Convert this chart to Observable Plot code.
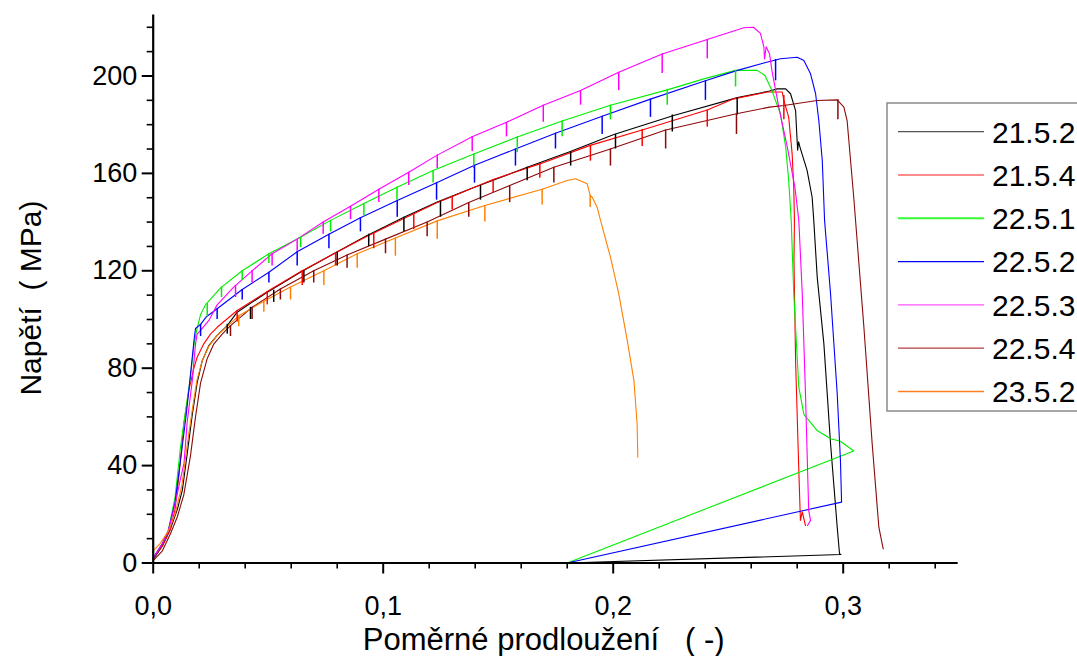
<!DOCTYPE html>
<html><head><meta charset="utf-8">
<script src="https://cdn.jsdelivr.net/npm/d3@7"></script>
<script src="https://cdn.jsdelivr.net/npm/@observablehq/plot@0.6"></script>
<style>
html,body{margin:0;padding:0;background:#fff;overflow:hidden;}
#chart{position:relative;width:1077px;height:656px;}
</style>
</head><body><div id="chart"></div>
<script>
// ---- categories / legend ----
const seriesNames = ["21.5.2","21.5.4","22.5.1","22.5.2","22.5.3","22.5.4","23.5.2"];
const seriesColors = ["#000000","#ff0000","#00ee00","#0000ff","#ff00ff","#8b0a0a","#ff8000"];
const legendColors = ["#555555","#ff6666","#33ff33","#0000ff","#ff55ff","#b04040","#ff8020"];

// ---- axis ticks ----
const xTicks = [0, 0.1, 0.2, 0.3];
const xTickLabels = ["0,0","0,1","0,2","0,3"];
const xMinor = [0.02,0.04,0.06,0.08,0.12,0.14,0.16,0.18,0.22,0.24,0.26,0.28,0.32,0.34];
const yTicks = [0, 40, 80, 120, 160, 200];
const yTickLabels = ["0","40","80","120","160","200"];
const yMinor = [10,20,30,50,60,70,90,100,110,130,140,150,170,180,190,210,220];
const xTitle = "Poměrné prodloužení   ( -)";
const yTitle = "Napětí  ( MPa)";

// ---- series: [strain, stress MPa] ----
const s21_5_2 = [[0,1.5],[0.004,7],[0.0075,14],[0.0105,22],[0.0127,30],[0.0148,45],[0.017,61],[0.0191,74],[0.0213,83],[0.0242,89.3],[0.0278,93.5],[0.0322,97.5],[0.0365,103],[0.0496,111.2],[0.064,119.4],[0.0785,127],[0.093,134.5],[0.109,142],[0.1235,148.2],[0.138,153.7],[0.1626,162.5],[0.1814,169],[0.2003,176],[0.2263,183.8],[0.254,191.1],[0.268,193.8],[0.2713,194.7],[0.275,194.7],[0.2771,192.7],[0.2793,185.8],[0.28,172.8],[0.2802,169.5],[0.2806,173],[0.2812,170.8],[0.2843,161.2],[0.2865,150.2],[0.2872,140.7],[0.2887,117.4],[0.2916,90],[0.2945,49],[0.2974,14.7],[0.2984,3.8],[0.299,3.5],[0.18,0]];
const s21_5_4 = [[0,2],[0.004,7],[0.0075,14],[0.0095,22],[0.0112,36],[0.0133,57],[0.0155,71],[0.0177,80],[0.0191,84.5],[0.022,90],[0.0249,94],[0.0278,96.8],[0.0365,103.7],[0.0503,111.9],[0.064,119.6],[0.0785,127],[0.093,134.2],[0.109,141.5],[0.1235,148],[0.13,150.5],[0.1478,157.5],[0.1684,164],[0.19,171.5],[0.2133,178],[0.2409,186],[0.2524,190.6],[0.267,193.4],[0.2735,193.4],[0.2742,190],[0.2763,183.1],[0.2778,168],[0.2785,154.3],[0.2788,140.7],[0.2786,124],[0.2793,83],[0.2807,38],[0.2814,17.5],[0.2822,21],[0.2836,15.4]];
const s22_5_1 = [[0,2],[0.004,8],[0.0065,13],[0.0095,27],[0.0118,47],[0.014,62],[0.016,75],[0.0178,90],[0.019,96],[0.0206,102],[0.0227,106],[0.0293,113],[0.0387,120],[0.0503,127],[0.064,133.8],[0.0771,140.7],[0.0916,147.6],[0.106,154.3],[0.1217,161.2],[0.1394,168],[0.1583,174.9],[0.1778,181.5],[0.1988,188],[0.2235,194.3],[0.2394,198.8],[0.2532,202.3],[0.2626,202.3],[0.266,200.2],[0.269,194],[0.2727,184.5],[0.275,170.8],[0.2763,157.1],[0.2774,140.7],[0.2785,110.6],[0.2807,72.2],[0.2829,61],[0.2887,54.4],[0.2945,51],[0.2988,50],[0.3046,46],[0.18,0]];
const s22_5_2 = [[0,2],[0.004,8],[0.0065,13],[0.0095,25],[0.012,43],[0.0145,62],[0.0165,80],[0.0178,92],[0.0184,96.3],[0.0206,98],[0.023,101],[0.0278,104.4],[0.0387,112.3],[0.0503,119.4],[0.0626,127.8],[0.0764,135],[0.0901,141.8],[0.1061,148.9],[0.1232,156.2],[0.1397,163.3],[0.1575,170],[0.1749,176.5],[0.1952,183.5],[0.2162,190.5],[0.2401,198],[0.254,202.3],[0.2655,205.3],[0.2727,207.1],[0.28,207.7],[0.2829,206.4],[0.2858,200.9],[0.288,192.7],[0.2894,181.7],[0.2909,165.3],[0.2919,140.7],[0.2945,110.6],[0.2974,69.5],[0.2988,42.1],[0.2993,25],[0.18,0]];
const s22_5_3 = [[0,2],[0.004,8],[0.0065,13],[0.0095,24],[0.0115,33],[0.0134,41],[0.0148,58],[0.017,75],[0.0184,90],[0.0191,94],[0.0206,95.5],[0.0242,99.6],[0.0278,106],[0.035,113.3],[0.043,120],[0.0517,127],[0.0626,133],[0.0739,140],[0.0858,146.5],[0.0981,153.5],[0.1111,160.5],[0.1235,167.5],[0.1387,175],[0.1536,181],[0.1696,188],[0.1858,194],[0.2024,201.5],[0.2213,209],[0.2409,215],[0.2568,219.8],[0.261,220],[0.264,217.5],[0.2655,212],[0.2658,207],[0.2665,212],[0.268,209],[0.269,202.3],[0.272,187.2],[0.2757,170.8],[0.279,154.3],[0.2807,140.7],[0.2822,110.6],[0.2836,69.5],[0.285,21.6],[0.2858,17.5],[0.2845,15.4]];
const s22_5_4 = [[0,1],[0.004,5],[0.0075,12],[0.0105,19],[0.0133,28],[0.0162,44],[0.0184,60],[0.0206,74],[0.0235,84],[0.0264,90],[0.03,94],[0.0336,97.5],[0.043,105],[0.0553,112.5],[0.0698,120],[0.0843,126.5],[0.101,133],[0.1191,140],[0.1372,148],[0.155,155],[0.1742,162.5],[0.1988,170],[0.2228,177.8],[0.2536,184.5],[0.268,187.2],[0.2742,187.9],[0.2887,189.9],[0.2974,190.2],[0.3003,187.2],[0.3017,181.7],[0.3032,165.3],[0.3046,150],[0.309,96.8],[0.3126,49],[0.3155,14.7],[0.3174,5.8]];
const s23_5_2 = [[0,5],[0.003,8],[0.0065,13],[0.0095,20],[0.0125,32],[0.015,50],[0.017,63],[0.019,75],[0.0213,83],[0.0242,89],[0.0278,93.5],[0.0372,101.5],[0.0481,107.5],[0.0597,113.3],[0.0742,120],[0.0887,127],[0.1053,133.5],[0.1235,140.5],[0.1442,146.8],[0.1691,153.5],[0.18,157.1],[0.1836,157.8],[0.1887,155.7],[0.19,151],[0.1909,150.2],[0.193,146.1],[0.1945,140.7],[0.1988,125.6],[0.2024,110.6],[0.2061,91.4],[0.209,75],[0.2104,57.2],[0.2107,43.4]];

// ---- periodic unloading spikes: [strain, top, bottom] ----
const k21_5_2 = [[0.0322,98,94],[0.0423,105,100],[0.0524,112,107],[0.0655,120,115],[0.08,127.5,122],[0.0937,135,130],[0.109,142,136],[0.1249,148.5,142],[0.1423,155,149],[0.1626,162.5,157],[0.1815,169,163],[0.201,176,170],[0.2257,184,177],[0.2539,191,184]];
const k21_5_4 = [[0.0365,103.7,99],[0.0496,111.5,106],[0.0648,120,114],[0.0793,127,122],[0.0959,135.5,129],[0.1133,143,137],[0.13,150.5,145],[0.1478,157.5,152],[0.1681,164,158],[0.1901,171.5,165],[0.2126,178,171],[0.2409,186,179],[0.2742,192,182]];
const k22_5_1 = [[0.0235,106.5,101],[0.0297,113.3,109],[0.0387,120,116],[0.0503,127,123],[0.0641,133.8,129.5],[0.0771,140.7,136],[0.0916,147.6,142.5],[0.106,154.3,149],[0.1217,161.2,156],[0.1394,168,162],[0.1583,174.9,168.5],[0.1778,181.5,175],[0.1988,188,182],[0.2235,194.3,188],[0.2532,202.3,195.5]];
const k22_5_2 = [[0.0206,98,93],[0.0278,104.4,100],[0.0387,112.3,108],[0.0503,119.4,115],[0.0626,127.8,122],[0.0764,135,129],[0.0901,141.8,136],[0.1061,148.9,142],[0.1232,156.2,149],[0.1397,163.3,156],[0.1575,170,163],[0.1749,176.5,170],[0.1952,183.5,176],[0.2162,190.5,183],[0.2401,198,190],[0.2706,206.8,198]];
const k22_5_3 = [[0.0358,114,109],[0.043,120,115],[0.0517,127,122],[0.0626,133,128],[0.0739,140,135],[0.0858,146.5,141],[0.0981,153.5,148],[0.1111,160.5,155],[0.1235,167.5,162],[0.1387,175,169],[0.1536,181,175],[0.1696,188,181],[0.1858,194,188],[0.2024,201.5,194],[0.2213,209,201],[0.2409,215,207]];
const k22_5_4 = [[0.0336,97.5,93],[0.043,105,100],[0.0553,112.5,108],[0.0698,120,115],[0.0843,126.5,121],[0.101,133,127],[0.1191,140,134],[0.1372,148,142],[0.155,155,148],[0.1742,162.5,156],[0.1988,170,163],[0.2228,177.8,170],[0.2536,184.5,176],[0.2977,190.2,182]];
const k23_5_2 = [[0.0372,101.5,97],[0.0481,107.5,103],[0.0597,113.3,108],[0.0742,120,114],[0.0887,127,121],[0.1053,133.5,126],[0.1235,140.5,133],[0.1442,146.8,140],[0.1691,153.5,147],[0.19,151,146]];

const seriesData = [s21_5_2, s21_5_4, s22_5_1, s22_5_2, s22_5_3, s22_5_4, s23_5_2];
const spikeData = [k21_5_2, k21_5_4, k22_5_1, k22_5_2, k22_5_3, k22_5_4, k23_5_2];

const rows = seriesNames.flatMap((name, i) => seriesData[i].map(([s, v]) => ({series: name, s, v})));
const spikes = seriesNames.flatMap((name, i) => spikeData[i].map(([s, top, bot]) => ({series: name, s, top, bot})));

const FONT = "'Liberation Sans', Arial, Helvetica, sans-serif";

const plot = Plot.plot({
  width: 1077,
  height: 656,
  marginLeft: 152.7,
  marginRight: 119.3,
  marginTop: 14.6,
  marginBottom: 93.5,
  x: {domain: [0, 0.35]},
  y: {domain: [0, 225]},
  color: {domain: seriesNames, range: seriesColors},
  style: {fontFamily: FONT, background: "white", color: "#000"},
  marks: [
    Plot.line(rows, {x: "s", y: "v", z: "series", stroke: "series", strokeWidth: 1.1}),
    Plot.ruleX(spikes, {x: "s", y1: "top", y2: "bot", stroke: "series", strokeWidth: 1.5}),
    Plot.axisX({ticks: xMinor, tickSize: 6, tickFormat: () => "", label: null, strokeWidth: 1.6}),
    Plot.axisX({ticks: xTicks, tickSize: 11, tickPadding: 22, tickFormat: d => xTickLabels[xTicks.indexOf(d)], label: null, fontSize: 27, strokeWidth: 2}),
    Plot.axisY({ticks: yMinor, tickSize: 6, tickFormat: () => "", label: null, strokeWidth: 1.6}),
    Plot.axisY({ticks: yTicks, tickSize: 11, tickPadding: 5, tickFormat: d => yTickLabels[yTicks.indexOf(d)], label: null, fontSize: 27, strokeWidth: 2}),
    Plot.ruleX([0], {strokeWidth: 2.2}),
    Plot.ruleY([0], {strokeWidth: 2.2}),
    Plot.text([yTitle], {frameAnchor: "left", textAnchor: "middle", dx: -122, dy: 9, rotate: -90, fontSize: 30, lineAnchor: "middle", fill: "#000"}),
    Plot.text([xTitle], {frameAnchor: "bottom", textAnchor: "middle", dx: -12, dy: 77, fontSize: 31, lineAnchor: "middle", fill: "#000"})
  ]
});

// legend box (its frame runs past the right edge, as in the source)
const g = d3.select(plot).append("g").attr("font-family", FONT).attr("text-anchor", "start");
g.append("rect").attr("x", 887).attr("y", 103).attr("width", 300).attr("height", 308)
  .attr("fill", "white").attr("stroke", "#8a8a8a").attr("stroke-width", 1.5);
seriesNames.forEach((name, i) => {
  const y = 131.7 + i * 43.3;
  g.append("line").attr("x1", 898).attr("x2", 984).attr("y1", y).attr("y2", y)
    .attr("stroke", legendColors[i]).attr("stroke-width", i === 2 ? 2 : 1.3);
  g.append("text").attr("x", 992).attr("y", y).attr("dy", "0.36em").attr("text-anchor", "start")
    .attr("font-size", 30).attr("fill", "#000").text(name);
});

document.getElementById("chart").appendChild(plot);
</script>
</body></html>
